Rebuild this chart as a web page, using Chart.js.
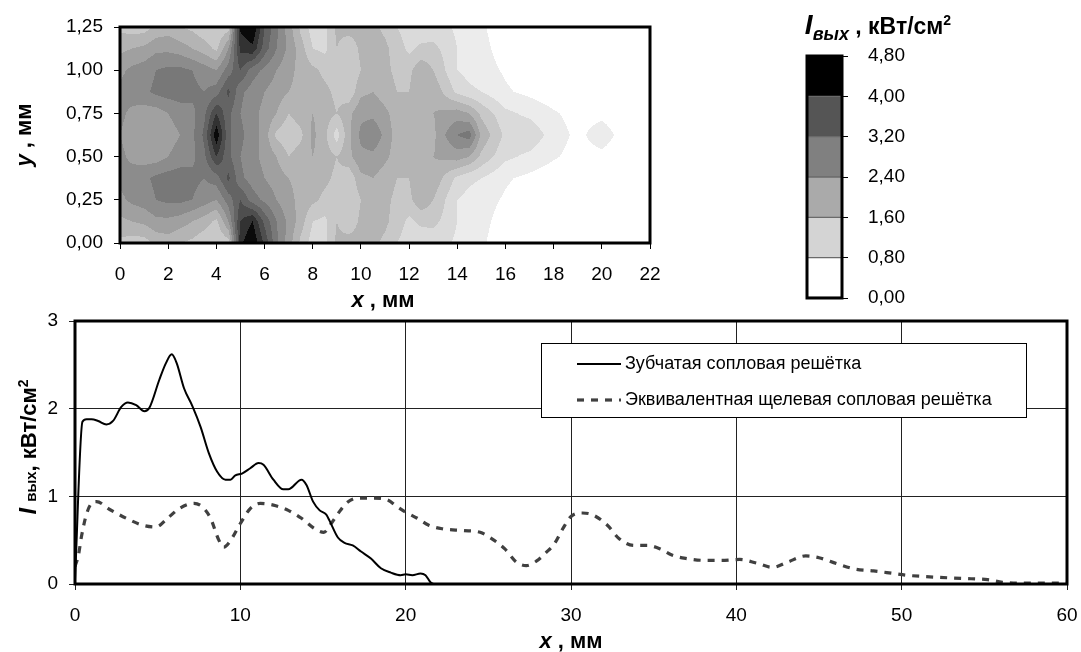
<!DOCTYPE html>
<html>
<head>
<meta charset="utf-8">
<script src="https://cdn.jsdelivr.net/npm/chart.js@4.4.0/dist/chart.umd.min.js"></script>
<style>
  body { margin: 0; background: #fff; width: 1081px; height: 652px; position: relative; overflow: hidden;
         font-family: "Liberation Sans", Arial, sans-serif; }
  canvas { position: absolute; }
  .t { position: absolute; font-weight: bold; font-size: 22px; white-space: nowrap; line-height: 1;
       transform: translate(-50%, -50%); }
  .r { transform: translate(-50%, -50%) rotate(-90deg); }
  .t sub, .t sup { line-height: 0; }
</style>
</head>
<body>
<canvas id="map" width="700" height="312" style="left:0;top:0"></canvas>
<canvas id="bar" width="140" height="270" style="left:790px;top:40px"></canvas>
<canvas id="line" width="1081" height="342" style="left:0;top:310px"></canvas>

<div class="t r" style="left:24px;top:135px"><i>y</i> , мм</div>
<div class="t" style="left:383px;top:300px"><i>x</i> , мм</div>
<div class="t" style="left:878px;top:25px;font-size:23px"><i style="font-size:28px">I</i><sub><i style="font-size:18px">вых</i></sub> , кВт/см<sup style="font-size:14px">2</sup></div>
<div class="t r" style="left:28px;top:447px"><i style="font-size:24px">I</i> <span style="font-size:15px">вых</span>, кВт/см<sup style="font-size:14px">2</sup></div>
<div class="t" style="left:571px;top:641px"><i>x</i> , мм</div>

<script>
// --- contour map (x, y in mm, z in kW/cm2) ---
const mapX = [0, 0.5, 1, 1.5, 2, 2.5, 3, 3.5, 4, 4.5, 5, 5.5, 6, 6.5, 7, 7.5, 8, 8.5, 9, 9.5,
              10, 10.5, 11, 11.5, 12, 12.5, 13, 13.5, 14, 14.5, 15, 16, 17, 18, 19, 20, 21, 22];
const mapY = [1.25, 1.125, 1, 0.875, 0.75, 0.625, 0.5, 0.375, 0.25, 0.125, 0];
const mapZ = [
  [1.5,1.4,1.4,1.7,1.8,1.6,1.5,1.3,1.2,1.4,4.5,4.8,3.6,2.9,2.2,1.5,1.0,1.1,1.7,1.8,1.8,1.7,1.5,1.2,1.0,0.9,1.0,0.9,0.7,0.6,0.45,0.2,0.1,0.1,0.1,0.1,0.1,0.1],
  [1.9,2.0,2.1,2.3,2.3,2.2,2.0,1.8,1.5,2.4,4.1,4.3,3.4,2.8,2.3,1.8,1.2,1.1,1.6,1.3,1.7,1.8,1.7,1.4,1.1,1.3,1.3,1.1,0.8,0.65,0.5,0.25,0.15,0.1,0.1,0.1,0.1,0.1],
  [2.3,2.5,2.6,2.8,2.9,2.9,2.8,2.6,2.4,3.0,3.6,3.0,2.7,2.4,2.1,1.9,1.7,1.5,1.4,1.2,1.6,1.7,1.7,1.5,1.5,1.9,1.6,1.2,0.8,0.65,0.55,0.35,0.2,0.1,0.1,0.1,0.1,0.1],
  [2.5,2.6,2.7,2.9,3.0,3.0,2.9,2.8,3.0,3.7,2.9,2.6,2.4,2.2,2.0,1.9,1.8,1.7,1.5,1.3,1.9,2.0,1.8,1.6,1.6,2.0,1.9,1.5,1.1,0.9,0.8,0.45,0.3,0.15,0.1,0.1,0.1,0.1],
  [2.5,2.3,2.2,2.2,2.4,2.6,2.7,3.1,4.0,3.3,2.8,2.5,2.3,2.0,1.6,1.8,2.0,1.8,1.6,1.9,2.3,2.3,2.1,1.8,1.7,1.8,2.0,2.1,2.2,2.0,1.5,0.9,0.7,0.45,0.25,0.3,0.15,0.1],
  [2.4,2.2,2.1,2.1,2.2,2.4,2.7,3.3,4.7,3.3,2.9,2.6,2.2,1.5,1.3,1.5,2.1,1.7,1.0,1.9,2.5,2.7,2.3,1.8,1.6,1.6,1.9,2.4,2.8,3.0,1.9,1.1,1.1,0.6,0.3,0.6,0.2,0.1],
  [2.5,2.3,2.2,2.2,2.4,2.6,2.7,3.1,4.0,3.3,2.8,2.5,2.3,2.0,1.6,1.8,2.0,1.8,1.6,1.9,2.3,2.3,2.1,1.8,1.7,1.8,2.0,2.1,2.2,2.0,1.5,0.9,0.7,0.45,0.25,0.3,0.15,0.1],
  [2.5,2.6,2.7,2.9,3.0,3.0,2.9,2.8,3.0,3.7,2.9,2.6,2.4,2.2,2.0,1.9,1.8,1.7,1.5,1.3,1.9,2.0,1.8,1.6,1.6,2.0,1.9,1.5,1.1,0.9,0.8,0.45,0.3,0.15,0.1,0.1,0.1,0.1],
  [2.3,2.5,2.6,2.8,2.9,2.9,2.8,2.6,2.4,3.0,3.6,3.0,2.7,2.4,2.1,1.9,1.7,1.5,1.4,1.2,1.6,1.7,1.7,1.5,1.5,1.9,1.6,1.2,0.8,0.65,0.55,0.35,0.2,0.1,0.1,0.1,0.1,0.1],
  [1.9,2.0,2.1,2.3,2.3,2.2,2.0,1.8,1.5,2.4,4.0,4.4,3.5,2.8,2.3,1.8,1.2,1.1,1.6,1.3,1.7,1.8,1.7,1.4,1.1,1.3,1.3,1.1,0.8,0.65,0.5,0.25,0.15,0.1,0.1,0.1,0.1,0.1],
  [1.5,1.4,1.4,1.7,1.8,1.6,1.5,1.3,1.2,1.4,4.3,4.8,3.9,2.9,2.2,1.5,1.0,1.1,1.7,1.8,1.8,1.7,1.5,1.2,1.0,0.9,1.0,0.9,0.7,0.6,0.45,0.2,0.1,0.1,0.1,0.1,0.1,0.1]
];
const mapXTicks = [0, 2, 4, 6, 8, 10, 12, 14, 16, 18, 20, 22];
const mapYTicks = [0, 0.25, 0.5, 0.75, 1, 1.25];
const shadeEdges = [0.4, 0.8, 1.2, 1.6, 2.0, 2.4, 2.8, 3.2, 3.6, 4.0, 4.4];
const shadeGrays = [255, 236, 218, 200, 180, 160, 140, 120, 100, 78, 50, 10];

// --- colour scale ---
const barEdges = [0, 0.8, 1.6, 2.4, 3.2, 4.0, 4.8];
const barColors = ['#ffffff', '#d4d4d4', '#aaaaaa', '#808080', '#555555', '#000000'];

// --- profiles ---
const lineXTicks = [0, 10, 20, 30, 40, 50, 60];
const lineYTicks = [0, 1, 2, 3];
const solidLabel = 'Зубчатая сопловая решётка';
const solidX = [0, 0.45, 0.7, 1.0, 1.4, 1.9, 2.3, 2.8, 3.2, 3.7, 4.2, 4.5, 5.1, 5.5, 5.85, 6.15, 6.6, 7.1, 7.6, 8.1,
                8.6, 9.1, 9.4, 9.7, 10.1, 10.6, 11.1, 11.4, 12.0, 12.6, 12.9, 13.7, 14.0, 14.4, 14.8, 15.2, 15.4, 15.9,
                16.3, 16.8, 17.3, 17.9, 18.5, 19.1, 19.7, 20.0, 20.4, 20.9, 21.2, 21.5, 21.7, 22.0];
const solidY = [0.05, 1.85, 1.88, 1.88, 1.86, 1.82, 1.86, 2.02, 2.07, 2.04, 1.97, 2.01, 2.33, 2.52, 2.62, 2.52, 2.23, 2.03, 1.79, 1.49,
                1.28, 1.19, 1.19, 1.24, 1.26, 1.32, 1.38, 1.36, 1.19, 1.08, 1.08, 1.19, 1.13, 0.94, 0.84, 0.79, 0.72, 0.53,
                0.47, 0.44, 0.37, 0.29, 0.18, 0.13, 0.10, 0.11, 0.10, 0.12, 0.10, 0.02, 0.0, 0.0];
const dashLabel = 'Эквивалентная щелевая сопловая решётка';
const dashX = [0, 0.2, 0.4, 0.7, 1.0, 1.3, 2.1, 3.1, 4.1, 4.9, 5.6, 6.3, 7.2, 7.7, 8.2, 8.7, 9.0, 9.35, 10.0, 10.6,
               11.2, 12.0, 12.9, 13.7, 14.5, 15.05, 15.5, 15.9, 16.4, 17.1, 18.1, 18.9, 19.5, 20.0, 20.7, 21.4, 22.2, 23.5, 24.5, 25.1,
               26.0, 26.7, 27.3, 27.9, 28.5, 29.0, 29.5, 30.0, 30.7, 31.3, 32.2, 32.9, 33.8, 34.6, 35.4, 36.1, 37.0, 38.0, 39.1, 40.2,
               41.2, 42.2, 43.1, 44.2, 45.0, 46.1, 47.2, 48.3, 49.5, 50.3, 51.4, 52.9, 54.2, 55.2, 56.1, 57.1, 58.2, 60];
const dashY = [0.2, 0.32, 0.55, 0.8, 0.92, 0.94, 0.85, 0.75, 0.67, 0.65, 0.75, 0.86, 0.92, 0.88, 0.75, 0.50, 0.42, 0.48, 0.69, 0.86,
               0.92, 0.90, 0.84, 0.75, 0.63, 0.59, 0.69, 0.80, 0.92, 0.98, 0.98, 0.96, 0.88, 0.82, 0.75, 0.67, 0.63, 0.61, 0.59, 0.53,
               0.40, 0.25, 0.21, 0.26, 0.36, 0.46, 0.63, 0.77, 0.81, 0.79, 0.67, 0.52, 0.44, 0.44, 0.40, 0.33, 0.29, 0.27, 0.27, 0.28,
               0.24, 0.19, 0.25, 0.32, 0.30, 0.23, 0.17, 0.15, 0.12, 0.10, 0.085, 0.07, 0.06, 0.05, 0.02, 0.01, 0.01, 0.01];

Chart.defaults.font.family = '"Liberation Sans", Arial, sans-serif';
Chart.defaults.font.size = 19;
Chart.defaults.color = '#000';

const comma = (v, d) => v.toFixed(d).replace('.', ',');
const tickList = list => scale => { scale.ticks = list.map(v => ({ value: v })); };
// fixed axis size, and no extra room reserved for end labels
const fixSize = (prop, size) => scale => {
  scale[prop] = size;
  scale.paddingTop = scale.paddingBottom = scale.paddingLeft = scale.paddingRight = 0;
};

// where v falls between arr[i] and arr[i+1], and how far along
function findSeg(arr, v) {
  const asc = arr[arr.length - 1] > arr[0];
  for (let i = 0; i < arr.length - 1; i++) {
    if ((asc && v <= arr[i + 1]) || (!asc && v >= arr[i + 1])) {
      return [i, Math.min(1, Math.max(0, (v - arr[i]) / (arr[i + 1] - arr[i])))];
    }
  }
  return [arr.length - 2, 1];
}

function sampleZ(xv, yv) {
  const [i, t] = findSeg(mapX, xv);
  const [j, u] = findSeg(mapY, yv);
  const top = mapZ[j][i] * (1 - t) + mapZ[j][i + 1] * t;
  const bot = mapZ[j + 1][i] * (1 - t) + mapZ[j + 1][i + 1] * t;
  return top * (1 - u) + bot * u;
}

function grayFor(z) {
  let k = 0;
  while (k < shadeEdges.length && z >= shadeEdges[k]) k++;
  return shadeGrays[k];
}

// fills the plot area with banded shades, pixel by pixel through the scales
const contourPlugin = {
  id: 'contour',
  beforeDatasetsDraw(chart) {
    const { ctx, chartArea: a, scales: { x, y } } = chart;
    const w = Math.round(a.right - a.left), h = Math.round(a.bottom - a.top);
    const off = document.createElement('canvas');
    off.width = w; off.height = h;
    const octx = off.getContext('2d');
    const img = octx.createImageData(w, h);
    const xs = [];
    for (let i = 0; i < w; i++) xs.push(x.getValueForPixel(a.left + i + 0.5));
    for (let j = 0; j < h; j++) {
      const yv = y.getValueForPixel(a.top + j + 0.5);
      for (let i = 0; i < w; i++) {
        const g = grayFor(sampleZ(xs[i], yv));
        const k = (j * w + i) * 4;
        img.data[k] = img.data[k + 1] = img.data[k + 2] = g;
        img.data[k + 3] = 255;
      }
    }
    octx.putImageData(img, 0, 0);
    ctx.drawImage(off, a.left, a.top);
  }
};

const framePlugin = {
  id: 'frame',
  afterDatasetsDraw(chart, args, opts) {
    const { ctx, chartArea: a } = chart;
    ctx.save();
    ctx.lineWidth = opts.width || 3;
    ctx.strokeStyle = '#000';
    ctx.strokeRect(a.left, a.top, a.right - a.left, a.bottom - a.top);
    ctx.restore();
  }
};

// boxed legend inside the plot, drawn from the dataset styles
const boxLegend = {
  id: 'boxLegend',
  afterDraw(chart, args, o) {
    const ctx = chart.ctx;
    ctx.save();
    ctx.fillStyle = '#fff';
    ctx.fillRect(o.x, o.y, o.w, o.h);
    ctx.strokeStyle = '#000';
    ctx.lineWidth = 1;
    ctx.strokeRect(o.x + 0.5, o.y + 0.5, o.w, o.h);
    chart.data.datasets.forEach((ds, i) => {
      const cy = o.y + o.rows[i];
      ctx.beginPath();
      ctx.setLineDash(ds.borderDash || []);
      ctx.lineWidth = ds.borderWidth;
      ctx.strokeStyle = ds.borderColor;
      ctx.moveTo(o.x + o.lineFrom, cy);
      ctx.lineTo(o.x + o.lineTo, cy);
      ctx.stroke();
      ctx.setLineDash([]);
      ctx.fillStyle = '#000';
      ctx.font = '18px "Liberation Sans", Arial, sans-serif';
      ctx.textBaseline = 'middle';
      ctx.fillText(ds.label, o.x + o.textX, cy);
    });
    ctx.restore();
  }
};

const plain = { animation: false, responsive: false, devicePixelRatio: 1 };

new Chart(document.getElementById('map'), {
  type: 'scatter',
  data: { datasets: [{ data: [] }] },
  options: {
    ...plain,
    layout: { padding: { top: 27, right: 50, left: 0, bottom: 0 } },
    plugins: { legend: { display: false }, tooltip: { enabled: false }, frame: { width: 3 } },
    scales: {
      x: {
        type: 'linear', min: 0, max: 22,
        afterBuildTicks: tickList(mapXTicks),
        afterFit: fixSize('height', 69),
        border: { display: false },
        grid: { drawOnChartArea: false, tickLength: 6, color: '#000' },
        ticks: { padding: 14, maxRotation: 0, autoSkip: false, callback: v => String(v) }
      },
      y: {
        type: 'linear', min: 0, max: 1.25,
        afterBuildTicks: tickList(mapYTicks),
        afterFit: fixSize('width', 120),
        border: { display: false },
        grid: { drawOnChartArea: false, tickLength: 6, color: '#000' },
        ticks: { padding: 11, autoSkip: false, callback: v => comma(v, 2) }
      }
    }
  },
  plugins: [contourPlugin, framePlugin]
});

new Chart(document.getElementById('bar'), {
  type: 'bar',
  data: {
    labels: [''],
    datasets: barColors.map((c, i) => ({
      data: [[barEdges[i], barEdges[i + 1]]],
      backgroundColor: c,
      borderColor: '#6a6a6a',
      borderWidth: 1,
      borderSkipped: false,
      grouped: false,
      barPercentage: 1,
      categoryPercentage: 1
    }))
  },
  options: {
    ...plain,
    layout: { padding: { top: 16, left: 17, bottom: 12, right: 0 } },
    plugins: { legend: { display: false }, tooltip: { enabled: false }, frame: { width: 3 } },
    scales: {
      x: { display: false },
      y: {
        position: 'right', min: 0, max: 4.8,
        afterBuildTicks: tickList(barEdges),
        afterFit: fixSize('width', 88),
        border: { display: false },
        grid: { drawOnChartArea: false, tickLength: 6, color: '#000' },
        ticks: { padding: 20, autoSkip: false, callback: v => comma(v, 2) }
      }
    }
  },
  plugins: [framePlugin]
});

new Chart(document.getElementById('line'), {
  type: 'line',
  data: {
    datasets: [
      {
        label: solidLabel,
        data: solidX.map((x, i) => ({ x, y: solidY[i] })),
        borderColor: '#000', borderWidth: 2, pointRadius: 0,
        cubicInterpolationMode: 'monotone', fill: false
      },
      {
        label: dashLabel,
        data: dashX.map((x, i) => ({ x, y: dashY[i] })),
        borderColor: '#404040', borderWidth: 3.2, borderDash: [7, 7], pointRadius: 0,
        cubicInterpolationMode: 'monotone', fill: false
      }
    ]
  },
  options: {
    ...plain,
    layout: { padding: { top: 11, right: 14, left: 0, bottom: 0 } },
    plugins: {
      legend: { display: false }, tooltip: { enabled: false }, frame: { width: 3 },
      boxLegend: { x: 541, y: 33, w: 485, h: 74, rows: [21, 57], lineFrom: 36, lineTo: 80, textX: 84 }
    },
    scales: {
      x: {
        type: 'linear', min: 0, max: 60,
        afterBuildTicks: tickList(lineXTicks),
        afterFit: fixSize('height', 68),
        border: { display: false },
        grid: { tickLength: 6, color: '#222', lineWidth: 1 },
        ticks: { padding: 14, maxRotation: 0, autoSkip: false, callback: v => String(v) }
      },
      y: {
        type: 'linear', min: 0, max: 3,
        afterBuildTicks: tickList(lineYTicks),
        afterFit: fixSize('width', 75),
        border: { display: false },
        grid: { tickLength: 6, color: '#222', lineWidth: 1 },
        ticks: { padding: 11, autoSkip: false, callback: v => String(v) }
      }
    }
  },
  plugins: [framePlugin, boxLegend]
});
</script>
</body>
</html>
